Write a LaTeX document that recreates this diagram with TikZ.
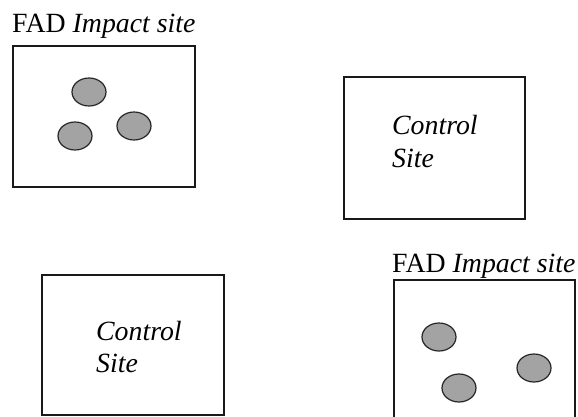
\documentclass[tikz,border=0pt]{standalone}
\usepackage{fontspec}
\setmainfont{Liberation Serif}
\usetikzlibrary{shapes.geometric,patterns}
\begin{document}
\begin{tikzpicture}[x=1pt,y=-1pt,
  sitebox/.style={draw=black!90,line width=2.6pt,inner sep=0pt,rectangle},
  blob/.style={draw=black!85,line width=1.2pt,ellipse,fill=black!36,inner sep=0pt,minimum width=34pt,minimum height=28pt},
  lbl/.style={inner sep=0pt,anchor=base west,font=\fontsize{27.8}{32}\selectfont,text=black}]
\useasboundingbox (0,0) rectangle (578,417);
% top-left impact site
\node[lbl] (t1) at (12,33) {FAD \textit{Impact site}};
\node[sitebox,minimum width=182pt,minimum height=141pt] (b1) at (104,116.5) {};
\node[blob] (e11) at (89,92) {};
\node[blob] (e12) at (75,136) {};
\node[blob] (e13) at (134,126) {};
% top-right control site
\node[sitebox,minimum width=181pt,minimum height=142pt] (b2) at (434.5,148) {};
\node[lbl] (c2a) at (392,135) {\textit{Control}};
\node[lbl] (c2b) at (392,167) {\textit{Site}};
% bottom-left control site
\node[sitebox,minimum width=182pt,minimum height=140pt] (b3) at (133,345) {};
\node[lbl] (c3a) at (96,340) {\textit{Control}};
\node[lbl] (c3b) at (96,372) {\textit{Site}};
% bottom-right impact site
\node[lbl] (t4) at (392,272) {FAD \textit{Impact site}};
\node[sitebox,minimum width=181pt,minimum height=150pt] (b4) at (484.5,355) {};
\node[blob] (e41) at (439,337) {};
\node[blob] (e42) at (459,388) {};
\node[blob] (e43) at (534,368) {};
\end{tikzpicture}
\end{document}
